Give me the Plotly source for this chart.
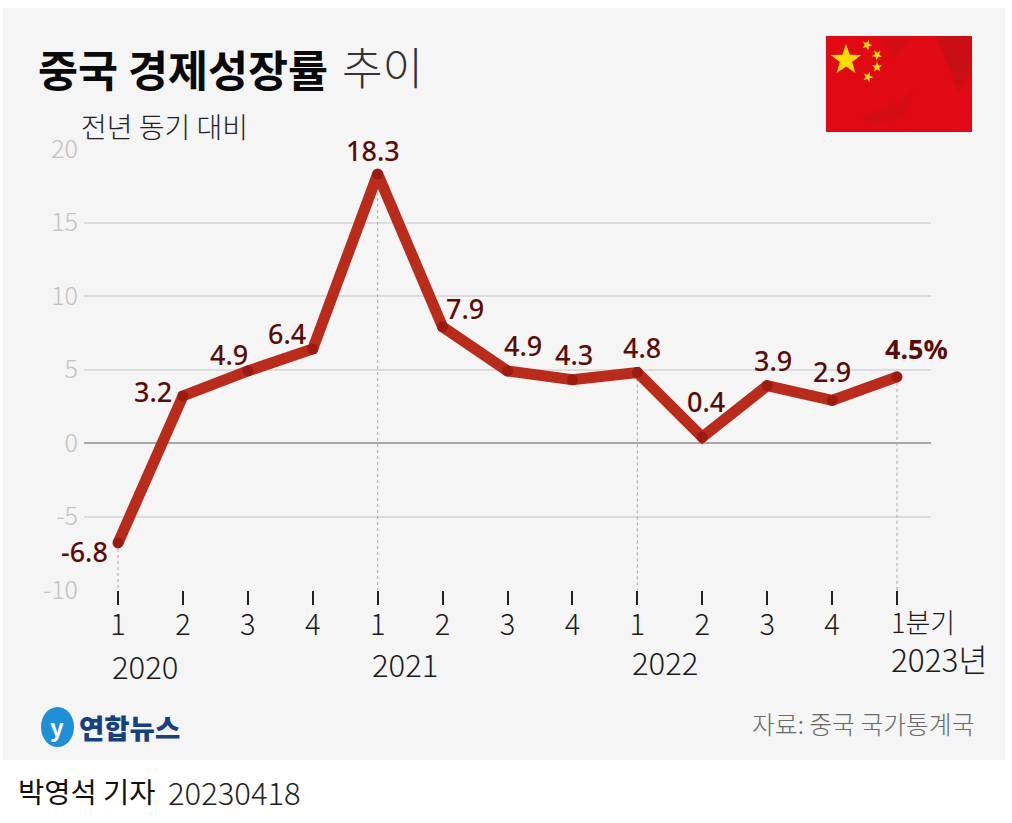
import math
import plotly.graph_objects as go

W, H = 1012, 823
ML, MR, MT, MB = 84, 81, 149, 233
quarters = ["1", "2", "3", "4", "1", "2", "3", "4", "1", "2", "3", "4", ""]
growth = [-6.8, 3.2, 4.9, 6.4, 18.3, 7.9, 4.9, 4.3, 4.8, 0.4, 3.9, 2.9, 4.5]
value_labels = ["-6.8", "3.2", "4.9", "6.4", "18.3", "7.9", "4.9", "4.3", "4.8", "0.4", "3.9", "2.9", "4.5%"]
label_shift_x = [-34, -30, -19, -26, -5, 22, 15, 2, 5, 4, 6, 0, 20]
label_shift_y = [-9, 4, 16, 15, 23, 18, 25, 25, 25, 36, 25, 29, 28]
y_ticks = [-10, -5, 0, 5, 10, 15, 20]
y_tick_labels = ["-10", "-5", "0", "5", "10", "15", "20"]
dotted_at = [0, 4, 8, 12]
year_labels = [("2020", 145, 665), ("2021", 405, 663), ("2022", 665, 661)]

KR = "Noto Sans CJK KR"
xs = list(range(len(growth)))


def px(x):
    return (x - ML) / (W - ML - MR)


def py(y):
    return (H - MB - y) / (H - MT - MB)


def star(cx, cy, r, rot=0.0):
    pts = []
    for i in range(10):
        rad = r if i % 2 == 0 else r * 0.4
        a = math.radians(-90 + rot + 36 * i)
        pts.append((px(cx + rad * math.cos(a)), py(cy + rad * math.sin(a))))
    return "M " + " L ".join(f"{a:.5f} {b:.5f}" for a, b in pts) + " Z"


def poly(points):
    return "M " + " L ".join(f"{px(a):.5f} {py(b):.5f}" for a, b in points) + " Z"


fig = go.Figure()
for i in dotted_at:
    fig.add_trace(go.Scatter(x=[xs[i], xs[i]], y=[growth[i], -10], mode="lines",
                             line=dict(color="#a8a8a8", width=1, dash="dot"),
                             hoverinfo="skip", showlegend=False))
fig.add_trace(go.Scatter(x=xs, y=growth, mode="lines", line=dict(color="#b92c1c", width=11),
                         showlegend=False))
fig.add_trace(go.Scatter(x=xs, y=growth, mode="markers", marker=dict(color="#9c1a10", size=11),
                         showlegend=False))

shapes = [
    dict(type="rect", xref="paper", yref="paper", x0=px(3), x1=px(1005), y0=py(760), y1=py(8),
         fillcolor="#f5f5f5", line_width=0, layer="below"),
    dict(type="rect", xref="paper", yref="paper", x0=px(826), x1=px(972), y0=py(132), y1=py(36),
         fillcolor="#e00a14", line_width=0, layer="below"),
    dict(type="path", xref="paper", yref="paper", path=poly([(935, 36), (972, 36), (972, 70), (958, 92), (950, 70)]),
         fillcolor="#b81414", opacity=0.55, line_width=0, layer="below"),
    dict(type="path", xref="paper", yref="paper", path=poly([(880, 36), (915, 36), (895, 58)]),
         fillcolor="#b81414", opacity=0.3, line_width=0, layer="below"),
    dict(type="path", xref="paper", yref="paper", path=poly([(860, 118), (900, 100), (915, 88), (905, 116), (880, 124)]),
         fillcolor="#b81414", opacity=0.25, line_width=0, layer="below"),
    dict(type="path", xref="paper", yref="paper", path=star(846, 60, 16), fillcolor="#fbdc04", line_width=0),
    dict(type="path", xref="paper", yref="paper", path=star(867, 45, 5.5, 20), fillcolor="#fbdc04", line_width=0),
    dict(type="path", xref="paper", yref="paper", path=star(877, 55, 5.5, 40), fillcolor="#fbdc04", line_width=0),
    dict(type="path", xref="paper", yref="paper", path=star(877, 67, 5.5, 0), fillcolor="#fbdc04", line_width=0),
    dict(type="path", xref="paper", yref="paper", path=star(868, 77, 5.5, 20), fillcolor="#fbdc04", line_width=0),
    dict(type="circle", xref="paper", yref="paper", x0=px(41), x1=px(74), y0=py(747), y1=py(707),
         fillcolor="#1f8fd6", line_width=0),
]


def note(text, x, y, size, color="#111111", anchor="left", weight=None):
    fig.add_annotation(text=text, xref="paper", yref="paper", x=px(x), y=py(y), showarrow=False,
                       xanchor=anchor, yanchor="middle",
                       font=dict(family=KR, size=size, color=color, weight=weight))


note("중국 경제성장률", 36, 69, 43.5, "#0a0a0a", weight=700)
note("추이", 340, 66, 44, "#333333", weight=300)
note("전년 동기 대비", 79, 126, 28, "#222222", weight=300)
note("1분기", 889, 621, 27, "#1a1a1a", weight=300)
note("2023년", 889, 658, 31.5, "#1a1a1a", weight=300)
for text, x, y in year_labels:
    note(text, x, y, 31, "#1a1a1a", anchor="center", weight=300)
note("y", 57, 726, 24, "#ffffff", anchor="center", weight=700)
note("연합뉴스", 77, 727, 27.5, "#17407f", weight=900)
note("자료: 중국 국가통계국", 750, 723, 24.8, "#6a6a6a", weight=300)
note("박영석 기자", 16, 790, 28.5, "#111111", weight=400)
note("20230418", 166, 791, 31, "#222222", weight=300)

for x, y, t, sx, sy in zip(xs, growth, value_labels, label_shift_x, label_shift_y):
    fig.add_annotation(x=x, y=y, xref="x", yref="y", text=t, showarrow=False, xshift=sx, yshift=sy,
                       font=dict(family="Noto Sans", size=27, color="#5a0d08",
                                 weight=700 if t.endswith("%") else 500))

fig.update_layout(
    width=W, height=H, autosize=False, paper_bgcolor="#ffffff", plot_bgcolor="rgba(0,0,0,0)",
    margin=dict(l=ML, r=MR, t=MT, b=MB), showlegend=False, shapes=shapes,
    font=dict(family=KR),
    xaxis=dict(range=[-0.524, 12.524], tickmode="array", tickvals=xs, ticktext=quarters,
               showgrid=False, zeroline=False, showline=False, ticks="outside", ticklen=14,
               tickwidth=2, tickcolor="#222222", ticklabelstandoff=-5,
               tickfont=dict(family=KR, size=29, color="#1a1a1a", weight=300)),
    yaxis=dict(range=[-10, 20], tickmode="array", tickvals=y_ticks, ticktext=y_tick_labels,
               showgrid=True, gridcolor="#dcdcdc", gridwidth=1.5, zeroline=True,
               zerolinecolor="#a8a8a8", zerolinewidth=1.5, ticks="", ticklabelstandoff=5,
               tickfont=dict(family=KR, size=25, color="#c2c2c2", weight=300)),
)
fig.write_html("out.html", post_script="document.body.style.margin='0';",
               config={"displayModeBar": False})
